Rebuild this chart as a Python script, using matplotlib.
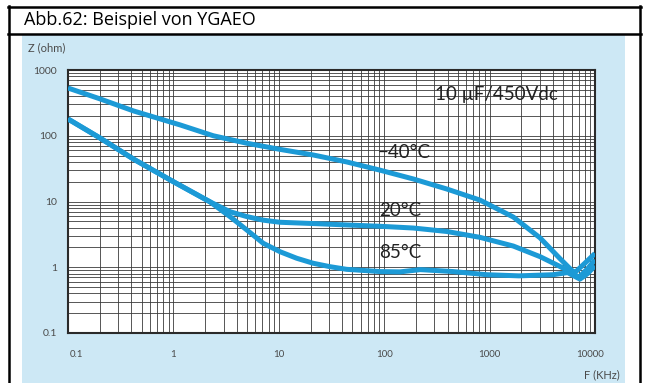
import matplotlib
matplotlib.use("Agg")
import matplotlib.pyplot as plt
from matplotlib.patches import Rectangle
from matplotlib.ticker import FixedLocator, LogLocator, NullFormatter, FixedFormatter
import matplotlib.transforms as mtransforms

# ---- data (frequency in kHz, impedance in ohm) ----
f_m40 = [0.1, 0.2, 0.42, 1.16, 2.39, 4.96, 10.3, 21.2, 44, 91, 189, 392, 811, 1680, 3010, 4660, 6000, 6500, 8000, 10000]
z_m40 = [532, 365, 238, 146, 100, 77, 62, 51, 40, 30, 22, 15.5, 10.5, 5.8, 2.8, 1.35, 0.9, 0.84, 1.15, 1.62]

f_20 = [0.1, 0.2, 0.42, 1.0, 2.22, 3.44, 4.96, 7.13, 10.3, 21.2, 44, 91, 189, 392, 811, 1680, 3010, 4700, 6000, 7000, 8500, 10000]
z_20 = [180, 93, 44, 20, 9.9, 7.0, 5.9, 5.2, 4.83, 4.62, 4.4, 4.2, 3.95, 3.5, 2.85, 2.1, 1.45, 1.02, 0.83, 0.7, 0.95, 1.3]

f_85 = [0.1, 0.2, 0.42, 1.0, 2.22, 3.44, 4.96, 7.13, 10.3, 14.8, 21.2, 30.6, 44, 91, 141, 220, 450, 940, 1900, 4000, 5500, 7200, 8500, 10000]
z_85 = [180, 93, 44, 20, 9.9, 5.9, 3.7, 2.31, 1.72, 1.37, 1.15, 1.02, 0.93, 0.86, 0.85, 0.92, 0.86, 0.77, 0.74, 0.77, 0.83, 0.66, 0.8, 1.05]

x_ticks = [0.1, 1, 10, 100, 1000, 10000]
x_tick_labels = ["0.1", "1", "10", "100", "1000", "10000"]
y_ticks = [0.1, 1, 10, 100, 1000]
y_tick_labels = ["0.1", "1", "10", "100", "1000"]

W, H = 645, 383
fig = plt.figure(figsize=(W / 100, H / 100), dpi=100)

# background / frame overlay in pixel coordinates
bg = fig.add_axes([0, 0, 1, 1])
bg.set_xlim(0, W)
bg.set_ylim(H, 0)
bg.axis("off")
bg.set_zorder(0)
bg.add_patch(Rectangle((22, 35), 603, 350, facecolor="#cde8f5", edgecolor="none"))
lw_b = 1.8
bg.plot([9, 9], [6, H + 2], color="black", lw=lw_b)
bg.plot([640, 640], [6, H + 2], color="black", lw=lw_b)
bg.plot([8, 641], [7, 7], color="black", lw=lw_b)
bg.plot([8, 641], [33.5, 33.5], color="black", lw=lw_b)
bg.text(24, 20, "Abb.62: Beispiel von YGAEO", va="center", ha="left",
        fontsize=13, family="Open Sans", color="black")
bg.text(28, 48, "Z (ohm)", va="center", ha="left", fontsize=8,
        family="Lato", color="#4a4a4a")
bg.text(620, 375, "F (KHz)", va="center", ha="right", fontsize=8,
        family="Lato", color="#4a4a4a")

# main plot
L, R, T, B = 68, 595, 70, 333
ax = fig.add_axes([L / W, 1 - B / H, (R - L) / W, (B - T) / H])
ax.set_zorder(1)
ax.set_facecolor("white")
ax.set_xscale("log")
ax.set_yscale("log")
ax.set_xlim(0.1, 10000)
ax.set_ylim(0.1, 1000)

curve_color = "#1c9ad6"
for fx, zy in [(f_m40, z_m40), (f_20, z_20), (f_85, z_85)]:
    ax.plot(fx, zy, color=curve_color, lw=3.6, solid_joinstyle="round",
            solid_capstyle="butt", zorder=3)

ax.xaxis.set_major_locator(FixedLocator(x_ticks))
ax.xaxis.set_major_formatter(FixedFormatter(x_tick_labels))
ax.yaxis.set_major_locator(FixedLocator(y_ticks))
ax.yaxis.set_major_formatter(FixedFormatter(y_tick_labels))
ax.xaxis.set_minor_locator(LogLocator(base=10, subs=range(2, 10), numticks=20))
ax.yaxis.set_minor_locator(LogLocator(base=10, subs=range(2, 10), numticks=20))
ax.xaxis.set_minor_formatter(NullFormatter())
ax.yaxis.set_minor_formatter(NullFormatter())
ax.grid(True, which="both", color="#3a3a3a", lw=0.6)
ax.set_axisbelow(True)
ax.tick_params(which="both", length=0)
ax.tick_params(axis="x", pad=12, labelsize=7, labelcolor="#4a4a4a")
ax.tick_params(axis="y", pad=8, labelsize=7.5, labelcolor="#4a4a4a")
for lab in ax.get_xticklabels() + ax.get_yticklabels():
    lab.set_family("Lato")
for sp in ax.spines.values():
    sp.set_color("#2a2a2a")
    sp.set_linewidth(1.5)

# shift first/last x labels like the reference
labs = ax.get_xticklabels()
labs[0].set_transform(labs[0].get_transform() + mtransforms.ScaledTranslation(9 / 100, 0, fig.dpi_scale_trans))
labs[-1].set_transform(labs[-1].get_transform() + mtransforms.ScaledTranslation(-5 / 100, 0, fig.dpi_scale_trans))

txt_kw = dict(fontsize=13.5, family=["Lato", "DejaVu Sans"], color="#222222",
              va="center", ha="left", zorder=4)
ax.text(303, 417, "10 µF/450Vdc", **txt_kw)
ax.text(86, 56, "\u221240°C", **txt_kw)
ax.text(90, 7.4, "20°C", **txt_kw)
ax.text(89, 1.65, "85°C", **txt_kw)

fig.savefig("out.png", dpi=100)
